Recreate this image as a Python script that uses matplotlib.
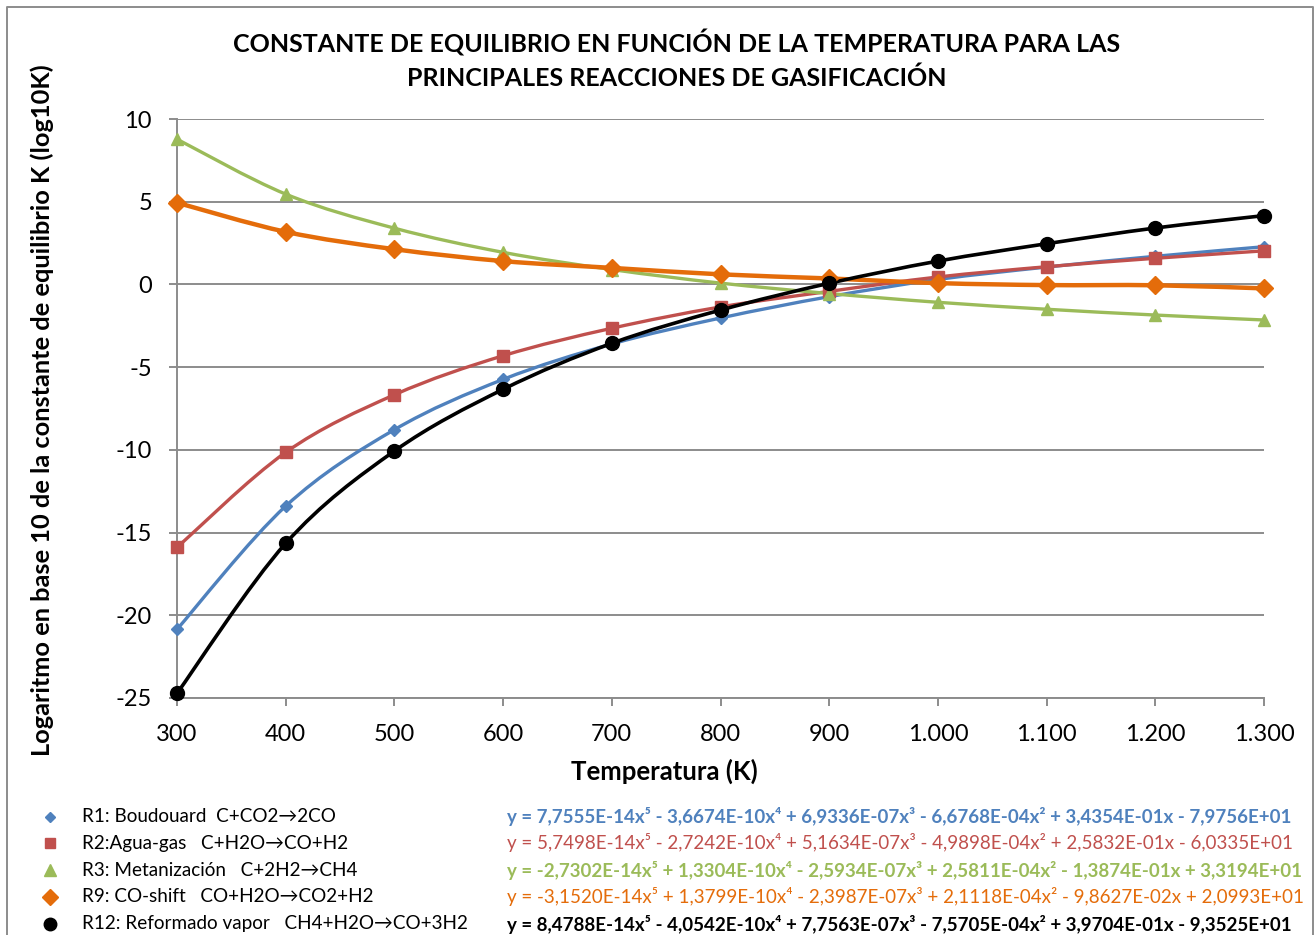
import numpy as np
import matplotlib
matplotlib.use("Agg")
import matplotlib.pyplot as plt
from matplotlib.path import Path
from matplotlib.patches import PathPatch
from matplotlib.lines import Line2D

plt.rcParams['font.family'] = ['Lato', 'DejaVu Sans']

# ---------------- data ----------------
temperatures = [300, 400, 500, 600, 700, 800, 900, 1000, 1100, 1200, 1300]
x_tick_labels = ["300", "400", "500", "600", "700", "800", "900",
                 "1.000", "1.100", "1.200", "1.300"]
y_ticks = [10, 5, 0, -5, -10, -15, -20, -25]

r1_boudouard = [-20.85, -13.40, -8.78, -5.74, -3.60, -2.03, -0.74, 0.30, 1.05, 1.70, 2.28]
r2_agua_gas = [-15.90, -10.15, -6.67, -4.31, -2.65, -1.36, -0.42, 0.45, 1.07, 1.58, 2.03]
r3_metanizacion = [8.78, 5.46, 3.40, 1.94, 0.90, 0.08, -0.55, -1.08, -1.50, -1.85, -2.15]
r9_co_shift = [4.94, 3.18, 2.13, 1.41, 1.00, 0.61, 0.36, 0.08, -0.04, -0.05, -0.24]
r12_reformado = [-24.72, -15.65, -10.07, -6.34, -3.56, -1.55, 0.07, 1.41, 2.46, 3.41, 4.16]

series_labels = [
    "R1: Boudouard  C+CO2\u21922CO",
    "R2:Agua-gas   C+H2O\u2192CO+H2",
    "R3: Metanizaci\u00f3n   C+2H2\u2192CH4",
    "R9: CO-shift   CO+H2O\u2192CO2+H2",
    "R12: Reformado vapor   CH4+H2O\u2192CO+3H2",
]
equations = [
    "y = 7,7555E-14x\u2075 - 3,6674E-10x\u2074 + 6,9336E-07x\u00b3 - 6,6768E-04x\u00b2 + 3,4354E-01x - 7,9756E+01",
    "y = 5,7498E-14x\u2075 - 2,7242E-10x\u2074 + 5,1634E-07x\u00b3 - 4,9898E-04x\u00b2 + 2,5832E-01x - 6,0335E+01",
    "y = -2,7302E-14x\u2075 + 1,3304E-10x\u2074 - 2,5934E-07x\u00b3 + 2,5811E-04x\u00b2 - 1,3874E-01x + 3,3194E+01",
    "y = -3,1520E-14x\u2075 + 1,3799E-10x\u2074 - 2,3987E-07x\u00b3 + 2,1118E-04x\u00b2 - 9,8627E-02x + 2,0993E+01",
    "y = 8,4788E-14x\u2075 - 4,0542E-10x\u2074 + 7,7563E-07x\u00b3 - 7,5705E-04x\u00b2 + 3,9704E-01x - 9,3525E+01",
]

# ---------------- styles ----------------
colors = ["#4F81BD", "#C0504D", "#9BBB59", "#E46C0A", "#000000"]
markers = ["D", "s", "^", "D", "o"]
msizes = [6, 8, 9, 9, 10]
lwidths = [2.4, 2.4, 2.4, 3.2, 2.6]
eq_bold = [True, False, True, False, True]
all_series = [r1_boudouard, r2_agua_gas, r3_metanizacion, r9_co_shift, r12_reformado]

W, H = 1316, 935
fig = plt.figure(figsize=(W / 100, H / 100), dpi=100)
ax = fig.add_axes([177 / W, 1 - 698 / H, (1264 - 177) / W, (698 - 119) / H])

def smooth_path(xs, ys):
    pts = np.column_stack([xs, ys]).astype(float)
    n = len(pts)
    verts = [pts[0]]
    codes = [Path.MOVETO]
    for i in range(n - 1):
        p0 = pts[i - 1] if i > 0 else pts[i]
        p1 = pts[i]
        p2 = pts[i + 1]
        p3 = pts[i + 2] if i + 2 < n else pts[i + 1]
        c1 = p1 + (p2 - p0) / 6.0
        c2 = p2 - (p3 - p1) / 6.0
        verts += [c1, c2, p2]
        codes += [Path.CURVE4] * 3
    return Path(verts, codes)

for ys, c, m, ms, lw in zip(all_series, colors, markers, msizes, lwidths):
    patch = PathPatch(smooth_path(temperatures, ys), facecolor="none",
                      edgecolor=c, lw=lw, zorder=3, capstyle="round", joinstyle="round")
    ax.add_patch(patch)
    ax.plot(temperatures, ys, linestyle="none", marker=m, markersize=ms,
            color=c, markeredgecolor=c, zorder=4, clip_on=False)

ax.set_xlim(300, 1300)
ax.set_ylim(-25, 10)
ax.set_xticks(temperatures)
ax.set_xticklabels(x_tick_labels)
ax.set_yticks(y_ticks)
ax.set_yticklabels([str(v) for v in y_ticks])
ax.grid(axis="y", color="#8C8C8C", lw=1.4, zorder=1)
for s in ["top", "right"]:
    ax.spines[s].set_visible(False)
for s in ["left", "bottom"]:
    ax.spines[s].set_color("#8C8C8C")
    ax.spines[s].set_linewidth(1.4)
ax.tick_params(axis="both", direction="out", length=6, width=1.4, color="#8C8C8C",
               labelsize=17, labelcolor="black")
ax.tick_params(axis="x", pad=13)
ax.tick_params(axis="y", pad=12)

fig.text(664 / W, 1 - 771 / H, "Temperatura (K)", ha="center", va="center",
         fontsize=18.5, fontweight="bold")
fig.text(42 / W, 1 - 410 / H,
         "Logaritmo en base 10 de la constante de equilibrio K (log10K)",
         rotation=90, ha="center", va="center", fontsize=18.3, fontweight="bold")

fig.text(677 / W, 1 - 43 / H,
         "CONSTANTE DE EQUILIBRIO EN FUNCI\u00d3N DE LA TEMPERATURA PARA LAS",
         ha="center", va="center", fontsize=18, fontweight="bold")
fig.text(677 / W, 1 - 78 / H,
         "PRINCIPALES REACCIONES DE GASIFICACI\u00d3N",
         ha="center", va="center", fontsize=18, fontweight="bold")

rows_y = [817, 843, 870, 897, 924]
for i in range(5):
    yf = 1 - rows_y[i] / H
    fig.add_artist(Line2D([50 / W], [yf], transform=fig.transFigure, linestyle="none",
                          marker=markers[i], markersize=msizes[i] * 0.9, color=colors[i]))
    fig.text(82 / W, yf, series_labels[i], ha="left", va="center", fontsize=13.6)
    fig.text(507 / W, yf, equations[i], ha="left", va="center", fontsize=13.5,
             color=colors[i], fontweight="bold" if eq_bold[i] else "normal")

# chart-area border (left, top, right)
bx = [7 / W, 7 / W, 1313 / W, 1313 / W]
by = [0, 1 - 7 / H, 1 - 7 / H, 0]
fig.add_artist(Line2D(bx, by, transform=fig.transFigure, color="#8C8C8C", lw=1.4))

fig.savefig("out.png", dpi=100)
